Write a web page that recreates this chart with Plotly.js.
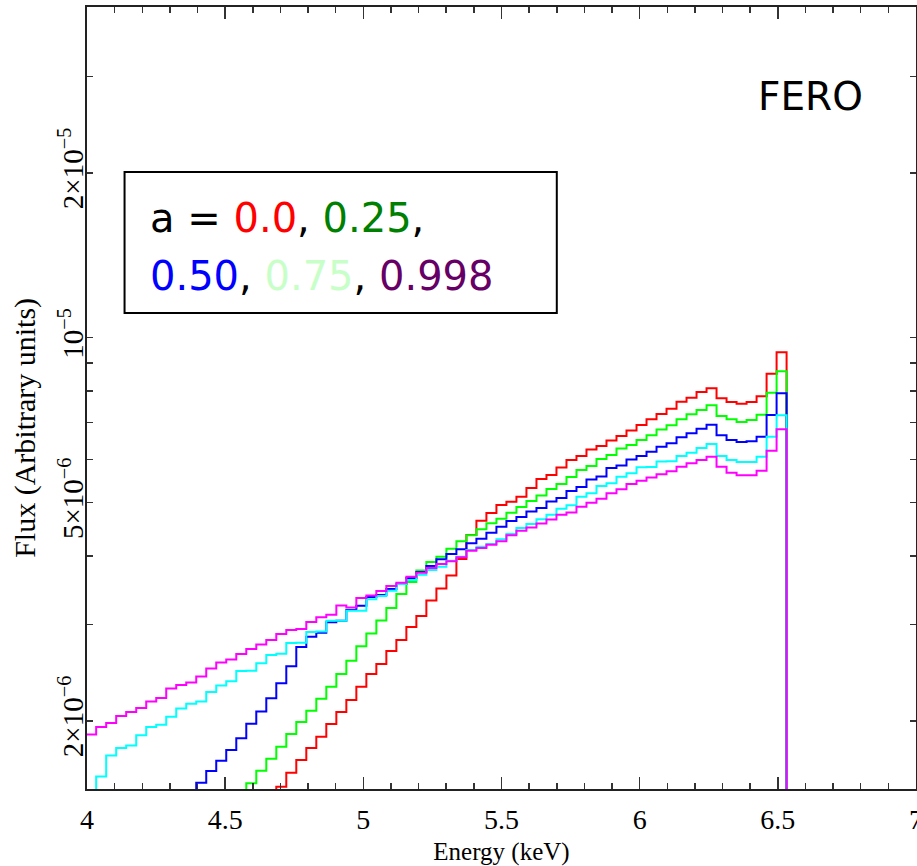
<!DOCTYPE html>
<html>
<head>
<meta charset="utf-8">
<script src="https://cdn.plot.ly/plotly-3.0.1.min.js"></script>
<style>html,body{margin:0;padding:0;background:#fff;}#chart{width:917px;height:866px;}</style>
</head>
<body>
<div id="chart"></div>
<script>
// Bin edges (keV)
const energyEdges = [3.9970, 4.0332, 4.0694, 4.1056, 4.1418, 4.1781, 4.2143, 4.2505, 4.2867, 4.3229,
  4.3591, 4.3953, 4.4315, 4.4677, 4.5039, 4.5402, 4.5764, 4.6126, 4.6488, 4.6850,
  4.7212, 4.7574, 4.7936, 4.8298, 4.8660, 4.9023, 4.9385, 4.9747, 5.0109, 5.0471,
  5.0833, 5.1195, 5.1557, 5.1919, 5.2281, 5.2644, 5.3006, 5.3368, 5.3730, 5.4092,
  5.4454, 5.4816, 5.5178, 5.5540, 5.5902, 5.6265, 5.6627, 5.6989, 5.7351, 5.7713,
  5.8075, 5.8437, 5.8799, 5.9161, 5.9523, 5.9886, 6.0248, 6.0610, 6.0972, 6.1334,
  6.1696, 6.2058, 6.2420, 6.2782, 6.3144, 6.3507, 6.3869, 6.4231, 6.4593, 6.4955, 6.5317];

// Flux per bin, in units of 1e-6 (null = not drawn)
const UNIT = 1e-6;
const fluxA000 = [null,null,null,null,null,null,null,null,null,null,null,null,null,null,null,null,null,null,
  1.4, 1.516, 1.608, 1.696, 1.784, 1.870, 1.973, 2.075, 2.182, 2.308, 2.434, 2.538, 2.681, 2.808, 2.965,
  3.106, 3.315, 3.486, 3.682, 3.946, 4.365, 4.635, 4.788, 4.951, 5.020, 5.127, 5.318, 5.523, 5.617, 5.796,
  5.982, 6.083, 6.252, 6.344, 6.493, 6.616, 6.771, 6.930, 7.097, 7.257, 7.421, 7.642, 7.768, 7.960, 8.085,
  7.752, 7.632, 7.578, 7.632, 7.818, 8.596, 9.405];
const fluxA025 = [null,null,null,null,null,null,null,null,null,null,null,null,null,null,null,
  1.4, 1.538, 1.621, 1.705, 1.793, 1.892, 1.989, 2.086, 2.194, 2.308, 2.434, 2.574, 2.735, 2.886, 3.048,
  3.212, 3.406, 3.583, 3.760, 3.897, 3.985, 4.121, 4.251, 4.359, 4.471, 4.585, 4.674, 4.794, 4.910, 5.035,
  5.153, 5.296, 5.408, 5.569, 5.736, 5.833, 6.007, 6.109, 6.278, 6.371, 6.506, 6.636, 6.802, 6.921, 7.097,
  7.248, 7.380, 7.527, 7.196, 7.097, 7.017, 7.077, 7.236, 7.937, 8.684];
const fluxA050 = [null,null,null,null,null,null,null,null,null,null,
  1.4, 1.542, 1.619, 1.691, 1.769, 1.859, 1.975, 2.079, 2.199, 2.341, 2.514, 2.726, 2.847, 2.895, 3.025,
  3.044, 3.185, 3.242, 3.364, 3.392, 3.479, 3.553, 3.643, 3.736, 3.832, 3.941, 4.030, 4.110, 4.215, 4.298,
  4.407, 4.520, 4.629, 4.708, 4.818, 4.889, 5.025, 5.099, 5.251, 5.340, 5.511, 5.581, 5.784, 5.845, 5.994,
  6.083, 6.191, 6.326, 6.417, 6.580, 6.692, 6.822, 6.938, 6.636, 6.506, 6.452, 6.471, 6.597, 7.227, 7.917];
const fluxA075 = [1.4, 1.582, 1.728, 1.784, 1.802, 1.882, 1.948, 1.966, 2.033, 2.105, 2.149, 2.168, 2.257,
  2.319, 2.360, 2.465, 2.468, 2.546, 2.636, 2.650, 2.773, 2.775, 2.904, 2.910, 3.044, 3.045, 3.174, 3.176,
  3.331, 3.378, 3.454, 3.553, 3.613, 3.694, 3.768, 3.821, 3.918, 3.985, 4.098, 4.156, 4.203, 4.287, 4.383,
  4.495, 4.571, 4.662, 4.753, 4.875, 4.945, 5.127, 5.201, 5.363, 5.424, 5.576, 5.657, 5.801, 5.808, 5.944,
  5.949, 6.083, 6.168, 6.291, 6.398, 6.083, 5.982, 5.932, 5.932, 6.065, 6.597, 7.218];
const fluxA0998 = [1.888, 1.948, 1.981, 2.040, 2.075, 2.110, 2.168, 2.200, 2.290, 2.324, 2.349, 2.409,
  2.491, 2.555, 2.587, 2.647, 2.704, 2.755, 2.808, 2.880, 2.928, 2.941, 3.028, 3.089, 3.121, 3.246, 3.218,
  3.350, 3.385, 3.450, 3.523, 3.572, 3.663, 3.725, 3.800, 3.864, 3.908, 3.974, 4.086, 4.133, 4.191, 4.251,
  4.359, 4.444, 4.504, 4.581, 4.659, 4.753, 4.798, 4.916, 4.999, 5.084, 5.201, 5.289, 5.408, 5.484, 5.557,
  5.633, 5.705, 5.816, 5.899, 5.982, 6.065, 5.816, 5.671, 5.609, 5.609, 5.719, 6.220, 6.805];
const fluxBeyondLine = 0.001; // flux above the line's maximum energy

const seriesNames = ['a = 0.0', 'a = 0.25', 'a = 0.50', 'a = 0.75', 'a = 0.998'];
const seriesColors = ['#ff0000', '#00ff00', '#0000ff', '#00ffff', '#ff00ff'];
const seriesValues = [fluxA000, fluxA025, fluxA050, fluxA075, fluxA0998];

const yTickVals = [2e-6, 5e-6, 1e-5, 2e-5];
const yTickText = ['2×10<sup>−6</sup>', '5×10<sup>−6</sup>', '10<sup>−5</sup>', '2×10<sup>−5</sup>'];
const yMinorVals = [3e-6, 4e-6, 6e-6, 7e-6, 8e-6, 9e-6, 3e-5, 4e-5];
const xTickVals = [4, 4.5, 5, 5.5, 6, 6.5, 7];
const xTickText = ['4', '4.5', '5', '5.5', '6', '6.5', '7'];

function stepTrace(vals, color, name) {
  const x = [], y = [];
  for (let i = 0; i < vals.length; i++) {
    if (vals[i] === null) continue;
    x.push(energyEdges[i]); y.push(vals[i] * UNIT);
  }
  const last = vals[vals.length - 1];
  x.push(energyEdges[vals.length]); y.push(last * UNIT);
  x.push(energyEdges[vals.length]); y.push(fluxBeyondLine * UNIT);
  return {x, y, type: 'scatter', mode: 'lines', name, showlegend: false,
    line: {shape: 'hv', color, width: 2}, hoverinfo: 'x+y+name'};
}

const traces = seriesValues.map((v, i) => stepTrace(v, seriesColors[i], seriesNames[i]));

const yRange = [-5.8235, -4.3965];
const serif = 'Liberation Serif, Times New Roman, serif';

const layout = {
  width: 917, height: 866,
  margin: {l: 87, r: 1, t: 7, b: 77},
  paper_bgcolor: '#fff', plot_bgcolor: '#fff',
  showlegend: false,
  xaxis: {
    range: [4, 7], tickmode: 'array', tickvals: xTickVals, ticktext: xTickText,
    ticks: 'inside', ticklen: 12, tickwidth: 1.5, tickcolor: '#333',
    minor: {dtick: 0.1, tick0: 4, ticks: 'inside', ticklen: 6, tickwidth: 1.5, tickcolor: '#333', showgrid: false},
    showline: true, linecolor: '#222', linewidth: 2, mirror: 'ticks',
    showgrid: false, zeroline: false, ticklabeloverflow: 'allow',
    tickfont: {family: serif, size: 28, color: '#000'}, ticklabelstandoff: 4,
    title: {text: 'Energy (keV)', font: {family: serif, size: 25, color: '#000'}, standoff: 9}
  },
  yaxis: {
    type: 'log', range: yRange, tickmode: 'array', tickvals: yTickVals, ticktext: yTickText,
    tickangle: -90, ticks: 'inside', ticklen: 6, tickwidth: 1.5, tickcolor: '#333',
    minor: {tickmode: 'array', tickvals: yMinorVals, ticks: 'inside', ticklen: 6, tickwidth: 1.5, tickcolor: '#333', showgrid: false},
    showline: true, linecolor: '#222', linewidth: 2, mirror: 'ticks',
    showgrid: false, zeroline: false, ticklabeloverflow: 'allow',
    tickfont: {family: serif, size: 29, color: '#000'}, ticklabelstandoff: -10
  },
  yaxis2: {
    type: 'log', range: yRange, overlaying: 'y', anchor: 'x', side: 'left',
    tickmode: 'array', tickvals: [1e-5], ticks: 'inside', ticklen: 11, tickwidth: 1.5, tickcolor: '#333',
    showticklabels: false, showline: false, mirror: 'ticks', showgrid: false, zeroline: false
  },
  shapes: [{type: 'rect', xref: 'paper', yref: 'paper', x0: 0.0453, x1: 0.5667, y0: 0.6087, y1: 0.789,
    line: {color: '#000', width: 2}, fillcolor: '#fff', layer: 'above'}],
  annotations: [
    {xref: 'paper', yref: 'paper', x: -0.075, y: 0.4616, xanchor: 'center', yanchor: 'middle', showarrow: false,
     textangle: -90, font: {family: serif, size: 30, color: '#000'}, text: 'Flux (Arbitrary units)'},
    {xref: 'paper', yref: 'paper', x: 0.073, y: 0.730, xanchor: 'left', yanchor: 'middle', showarrow: false,
     font: {family: 'DejaVu Sans, sans-serif', size: 40, color: '#000'},
     text: 'a = <span style="color:#ff0000">0.0</span>, <span style="color:#008000">0.25</span>,'},
    {xref: 'paper', yref: 'paper', x: 0.073, y: 0.6564, xanchor: 'left', yanchor: 'middle', showarrow: false,
     font: {family: 'DejaVu Sans, sans-serif', size: 40, color: '#000'},
     text: '<span style="color:#0000ff">0.50</span>, <span style="color:#c8ffc8">0.75</span>, <span style="color:#660066">0.998</span>'},
    {xref: 'paper', yref: 'paper', x: 0.8733, y: 0.8855, xanchor: 'center', yanchor: 'middle', showarrow: false,
     font: {family: 'DejaVu Sans, sans-serif', size: 39, color: '#000'}, text: 'FERO'}
  ]
};

Plotly.newPlot('chart', traces, layout, {displayModeBar: false, staticPlot: true});
</script>
</body>
</html>
